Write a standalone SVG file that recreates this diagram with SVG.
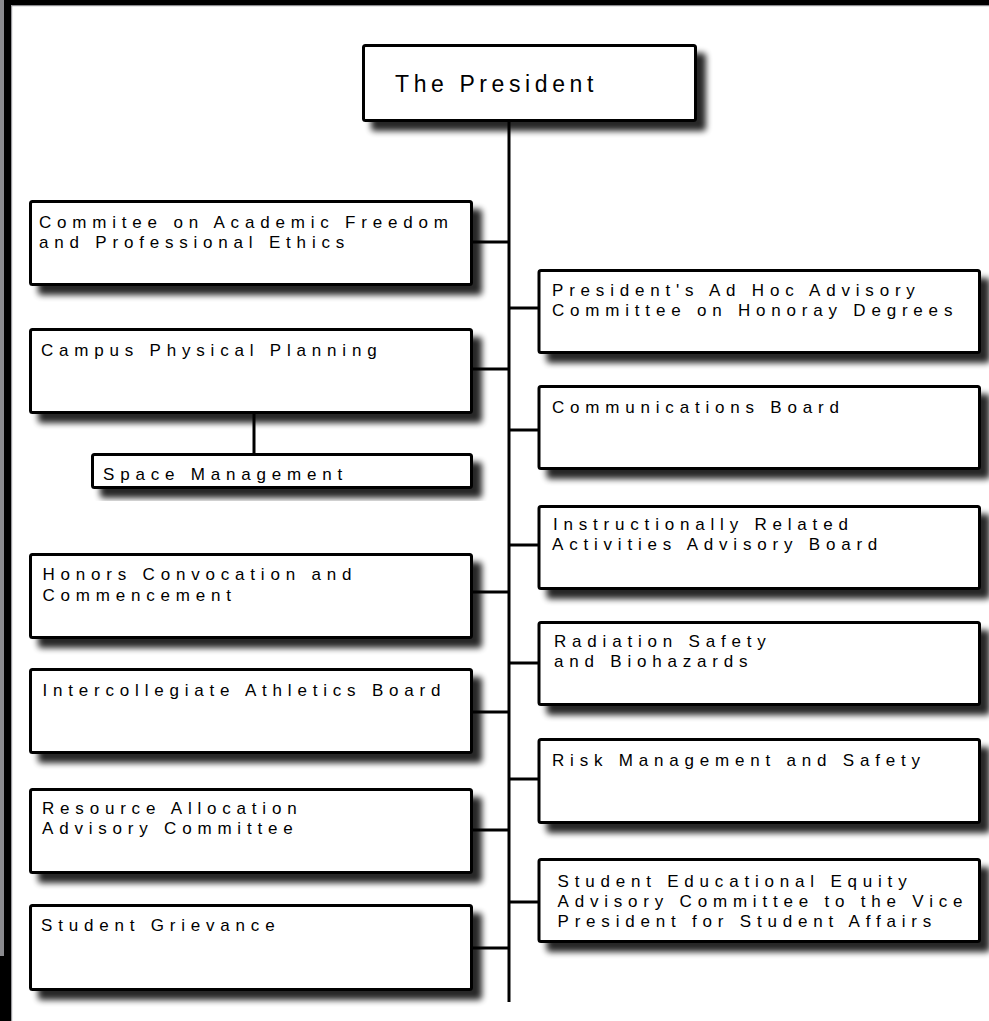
<svg xmlns="http://www.w3.org/2000/svg" width="989" height="1021" viewBox="0 0 989 1021">
<defs>
<filter id="sh" x="-10%" y="-20%" width="130%" height="160%">
<feGaussianBlur in="SourceAlpha" stdDeviation="3.2"/>
<feOffset dx="9" dy="9" result="b"/>
<feComponentTransfer><feFuncA type="linear" slope="0.85"/></feComponentTransfer>
<feMerge><feMergeNode/><feMergeNode in="SourceGraphic"/></feMerge>
</filter>
</defs>
<style>
.box{fill:#fff;stroke:#000;stroke-width:3}
.t{font-family:"Liberation Sans",Arial,sans-serif;font-size:17px;letter-spacing:5.8px;fill:#000}
.p{font-family:"Liberation Sans",Arial,sans-serif;font-size:23px;letter-spacing:4.6px;fill:#000}
.ln{stroke:#000;stroke-width:3;fill:none}
</style>
<rect x="0" y="0" width="989" height="1021" fill="#fff"/>
<g id="frame">
<rect x="0" y="0" width="989" height="5" fill="#000"/>
<rect x="12" y="5" width="977" height="1.2" fill="#8a8a8e"/>
<rect x="0" y="0" width="4" height="956" fill="#8a8a8e"/>
<rect x="4" y="0" width="8" height="1021" fill="#000"/>
<rect x="0" y="956" width="4" height="65" fill="#000"/>
<rect x="11" y="5" width="1.2" height="1016" fill="#9a9a9e"/>
</g>
<g id="connectors">
<line class="ln" x1="509" y1="122" x2="509" y2="1002"/>
<line class="ln" x1="472" y1="242" x2="509" y2="242"/>
<line class="ln" x1="472" y1="369" x2="509" y2="369"/>
<line class="ln" x1="472" y1="592" x2="509" y2="592"/>
<line class="ln" x1="472" y1="712" x2="509" y2="712"/>
<line class="ln" x1="472" y1="830" x2="509" y2="830"/>
<line class="ln" x1="472" y1="948" x2="509" y2="948"/>
<line class="ln" x1="509" y1="308" x2="539" y2="308"/>
<line class="ln" x1="509" y1="430" x2="539" y2="430"/>
<line class="ln" x1="509" y1="545" x2="539" y2="545"/>
<line class="ln" x1="509" y1="663" x2="539" y2="663"/>
<line class="ln" x1="509" y1="779" x2="539" y2="779"/>
<line class="ln" x1="509" y1="902" x2="539" y2="902"/>
<line class="ln" x1="254" y1="413" x2="254" y2="454"/>
</g>
<g id="president"><rect class="box" filter="url(#sh)" x="363.5" y="45.5" width="332" height="75" rx="2"/><text class="p" x="395" y="91.5">The President</text></g>
<g id="academic-freedom"><rect class="box" filter="url(#sh)" x="30.5" y="201.5" width="441" height="83" rx="2"/><text class="t" x="39" y="228">Commitee on Academic Freedom<tspan x="39" y="248">and Professional Ethics</tspan></text></g>
<g id="campus-planning"><rect class="box" filter="url(#sh)" x="30.5" y="329.5" width="441" height="83" rx="2"/><text class="t" x="41" y="356">Campus Physical Planning</text></g>
<g id="space-management"><rect class="box" filter="url(#sh)" x="92.5" y="454.5" width="379" height="33" rx="2"/><text class="t" x="103" y="480">Space Management</text></g>
<g id="honors"><rect class="box" filter="url(#sh)" x="30.5" y="554.5" width="441" height="83" rx="2"/><text class="t" x="42.5" y="580">Honors Convocation and<tspan x="42.5" y="600.5">Commencement</tspan></text></g>
<g id="athletics"><rect class="box" filter="url(#sh)" x="30.5" y="669.5" width="441" height="83" rx="2"/><text class="t" x="42.5" y="696">Intercollegiate Athletics Board</text></g>
<g id="resource"><rect class="box" filter="url(#sh)" x="30.5" y="789.5" width="441" height="83" rx="2"/><text class="t" x="42" y="814">Resource Allocation<tspan x="42" y="834">Advisory Committee</tspan></text></g>
<g id="grievance"><rect class="box" filter="url(#sh)" x="30.5" y="905.5" width="441" height="84" rx="2"/><text class="t" x="41" y="930.5">Student Grievance</text></g>
<g id="honorary"><rect class="box" filter="url(#sh)" x="539" y="270.5" width="440.5" height="82" rx="2"/><text class="t" x="552" y="296">President's Ad Hoc Advisory<tspan x="552" y="316">Committee on Honoray Degrees</tspan></text></g>
<g id="communications"><rect class="box" filter="url(#sh)" x="539" y="386.5" width="440.5" height="82" rx="2"/><text class="t" x="552" y="413">Communications Board</text></g>
<g id="instructional"><rect class="box" filter="url(#sh)" x="539" y="506.5" width="440.5" height="82" rx="2"/><text class="t" x="553" y="529.5">Instructionally Related<tspan x="552" y="550">Activities Advisory Board</tspan></text></g>
<g id="radiation"><rect class="box" filter="url(#sh)" x="539" y="622.5" width="440.5" height="82" rx="2"/><text class="t" x="554" y="647">Radiation Safety<tspan x="554" y="667">and Biohazards</tspan></text></g>
<g id="risk"><rect class="box" filter="url(#sh)" x="539" y="739.5" width="440.5" height="83" rx="2"/><text class="t" x="552" y="766">Risk Management and Safety</text></g>
<g id="equity"><rect class="box" filter="url(#sh)" x="539" y="859.5" width="440.5" height="82" rx="2"/><text class="t" x="557.5" y="887">Student Educational Equity<tspan x="557.5" y="907">Advisory Committee to the Vice</tspan><tspan x="557.5" y="927">President for Student Affairs</tspan></text></g>
</svg>
